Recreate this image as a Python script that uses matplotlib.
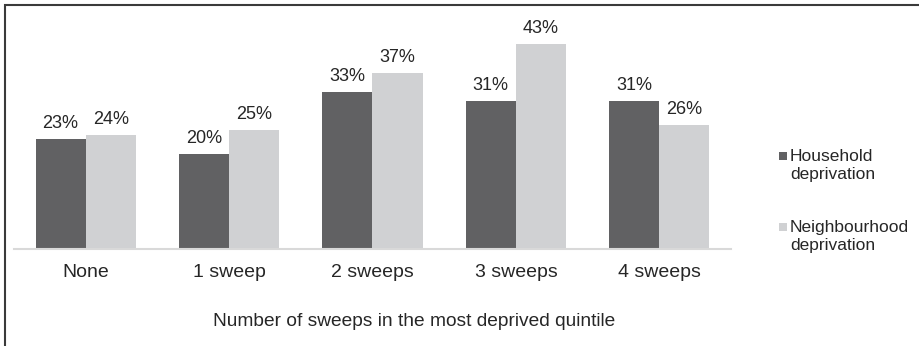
import matplotlib.pyplot as plt
import numpy as np
from matplotlib.patches import Rectangle

plt.rcParams['font.family'] = ['Liberation Sans', 'DejaVu Sans']

categories = ['None', '1 sweep', '2 sweeps', '3 sweeps', '4 sweeps']
household = [23, 20, 33, 31, 31]
neighbourhood = [24, 25, 37, 43, 26]
series_names = ['Household\ndeprivation', 'Neighbourhood\ndeprivation']

dark = '#616163'
light = '#d0d1d3'
text_col = '#262626'

fig = plt.figure(figsize=(9.19, 3.46), dpi=100)
ax = fig.add_axes([14 / 919, 97 / 346, 717 / 919, 238.5 / 346])

x = np.arange(len(categories))
w = 0.35
b1 = ax.bar(x - w / 2, household, w, color=dark)
b2 = ax.bar(x + w / 2, neighbourhood, w, color=light)

for bars, vals in [(b1, household), (b2, neighbourhood)]:
    for rect, v in zip(bars, vals):
        ax.annotate(f'{v}%', (rect.get_x() + rect.get_width() / 2, rect.get_height()),
                    xytext=(0, 5), textcoords='offset points', ha='center', va='bottom',
                    fontsize=13, color=text_col)

ax.set_xlim(-0.5, len(categories) - 0.5)
ax.set_ylim(0, 50)
ax.set_yticks([])
ax.set_xticks(x)
ax.set_xticklabels(categories, fontsize=14, color=text_col)
ax.tick_params(axis='x', length=0, pad=11)
for s in ['top', 'right', 'left']:
    ax.spines[s].set_visible(False)
ax.spines['bottom'].set_color('#d9d9d9')
ax.spines['bottom'].set_linewidth(1.5)

fig.text(414 / 919, 1 - 322 / 346, 'Number of sweeps in the most deprived quintile',
         ha='center', va='center', fontsize=13.8, color=text_col)

# legend: square marker aligned with the first line of each label
for name, col, ytop in zip(series_names, [dark, light], [149, 220]):
    fig.patches.append(Rectangle((779 / 919, 1 - (ytop + 11) / 346), 8 / 919, 8 / 346,
                                 transform=fig.transFigure, facecolor=col, edgecolor='none'))
    fig.text(790 / 919, 1 - ytop / 346, name, ha='left', va='top', fontsize=12.5,
             color=text_col, linespacing=1.25)

# outer frame (top and left edges visible)
fig.patches.append(Rectangle((4.5 / 919, -0.05), 1.2, 1 - 5 / 346 + 0.05,
                             transform=fig.transFigure, fill=False,
                             edgecolor='#3a3a3a', linewidth=1.5))

fig.savefig('out.png', dpi=100)
